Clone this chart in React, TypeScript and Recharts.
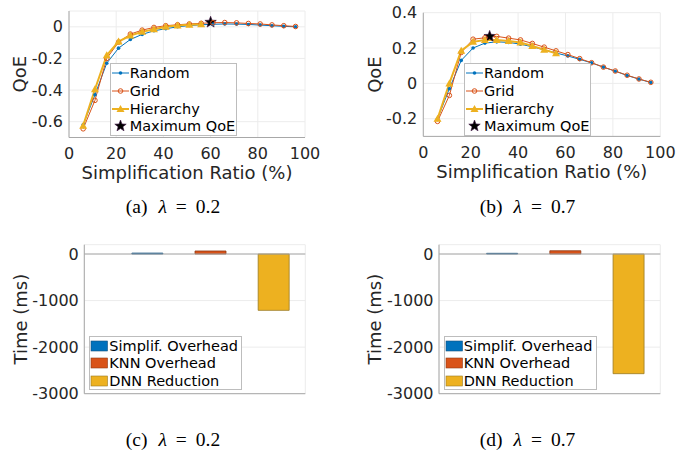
import React from "react";
import {
  Bar,
  BarChart,
  CartesianGrid,
  ComposedChart,
  Legend,
  Line,
  ReferenceLine,
  Scatter,
  XAxis,
  YAxis,
} from "recharts";

// simplification ratio (%) sampled by each method
const RATIO = [6, 11, 16, 21, 26, 31, 36, 41, 46, 51, 56, 61, 66, 71, 76, 81, 86, 91, 96];
const HIER_RATIO = [6, 11, 16, 21, 26, 31, 36, 41, 46, 51, 56];

// QoE, lambda = 0.2
const RANDOM_02 = [-0.62, -0.43, -0.23, -0.135, -0.08, -0.048, -0.025, -0.012, 0.0, 0.008, 0.013, 0.016, 0.018, 0.017, 0.015, 0.011, 0.007, 0.003, 0.0];
const GRID_02 = [-0.645, -0.465, -0.2, -0.097, -0.046, -0.021, -0.004, 0.007, 0.013, 0.018, 0.022, 0.026, 0.027, 0.025, 0.021, 0.018, 0.012, 0.007, 0.002];
const HIER_02 = [-0.625, -0.395, -0.18, -0.093, -0.055, -0.032, -0.015, 0.0, 0.008, 0.013, 0.016];
const MAX_02 = [{ x: 60, y: 0.029 }];

// QoE, lambda = 0.7
const RANDOM_07 = [-0.2, -0.03, 0.13, 0.2, 0.228, 0.235, 0.232, 0.222, 0.207, 0.19, 0.172, 0.155, 0.136, 0.116, 0.092, 0.069, 0.045, 0.024, 0.005];
const GRID_07 = [-0.215, -0.068, 0.175, 0.25, 0.258, 0.266, 0.256, 0.246, 0.226, 0.205, 0.184, 0.163, 0.14, 0.117, 0.092, 0.07, 0.046, 0.025, 0.006];
const HIER_07 = [-0.2, 0.0, 0.185, 0.235, 0.245, 0.245, 0.24, 0.232, 0.212, 0.19, 0.17];
const MAX_07 = [{ x: 28, y: 0.266 }];

// time breakdown (ms)
const BAR_POS = [1, 2, 3];
const BAR_KEYS = ["simplif", "knn", "dnn"];
const BAR_NAMES = ["Simplif. Overhead", "KNN Overhead", "DNN Reduction"];
const TIME_02 = [20, 65, -1210];
const TIME_07 = [15, 70, -2570];

const LINE_NAMES = ["Random", "Grid", "Hierarchy", "Maximum QoE"];
const X_TICKS = [0, 20, 40, 60, 80, 100];
const Y_TICKS_02 = [-0.6, -0.4, -0.2, 0];
const Y_TICKS_07 = [-0.2, 0, 0.2, 0.4];
const TIME_TICKS = [-3000, -2000, -1000, 0];

const BLUE = "#0072BD";
const ORANGE = "#D95319";
const YELLOW = "#EDB120";
const BAR_COLORS = [BLUE, ORANGE, YELLOW];
const BAR_EDGES = ["#17507e", "#8f3a14", "#9a7a22"];
const FONT = "DejaVu Sans";
const TEXT = "#262626";
const AXIS = "#a8a8a8";
const GRID = "#ececec";

const toPoints = (xs: number[], ys: number[]) => xs.map((x, i) => ({ x, y: ys[i] }));

function starPath(cx: number, cy: number, R: number) {
  const r = R * 0.42;
  let d = "";
  for (let k = 0; k < 10; k++) {
    const a = -Math.PI / 2 + (k * Math.PI) / 5;
    const rad = k % 2 === 0 ? R : r;
    d += (k === 0 ? "M" : "L") + (cx + rad * Math.cos(a)).toFixed(2) + "," + (cy + rad * Math.sin(a)).toFixed(2);
  }
  return d + "Z";
}

const Marker = ({ kind, cx, cy }: { kind: string; cx: number; cy: number }) => {
  if (kind === "Random") return <circle cx={cx} cy={cy} r={1.8} fill={BLUE} />;
  if (kind === "Grid")
    return <circle cx={cx} cy={cy} r={2.3} fill="none" stroke={ORANGE} strokeWidth={1} />;
  if (kind === "Hierarchy")
    return <path d={`M${cx},${cy - 4}L${cx - 4},${cy + 3}L${cx + 4},${cy + 3}Z`} fill={YELLOW} />;
  return <path d={starPath(cx, cy, 6)} fill="#000" stroke="#3a1040" strokeWidth={0.6} />;
};

const dotFor = (kind: string) => (p: any) =>
  p.cx == null ? <g key={`${kind}${p.index}`} /> : <g key={`${kind}${p.index}`}><Marker kind={kind} cx={p.cx} cy={p.cy} /></g>;

const LINE_COLOR: Record<string, string> = { Random: BLUE, Grid: ORANGE, Hierarchy: YELLOW };

const boxStyle: React.CSSProperties = {
  width: "100%",
  height: "100%",
  boxSizing: "border-box",
  background: "#fff",
  border: "1px solid #bdbdbd",
  fontFamily: FONT,
  fontSize: 14.5,
  color: "#000",
};

const ordered = (payload: any[], names: string[]) =>
  (payload || []).slice().sort((a, b) => names.indexOf(a.value) - names.indexOf(b.value));

function LineLegend({ payload }: any) {
  return (
    <div style={boxStyle}>
      {ordered(payload, LINE_NAMES).map((p: any) => (
        <div key={p.value} style={{ display: "flex", alignItems: "center", height: 17.7 }}>
          <svg width={19} height={16} style={{ flex: "none" }}>
            {LINE_COLOR[p.value] && (
              <line x1={1} x2={18} y1={8} y2={8} stroke={LINE_COLOR[p.value]} strokeWidth={p.value === "Hierarchy" ? 2 : 1} />
            )}
            <Marker kind={p.value} cx={9.5} cy={8} />
          </svg>
          <span style={{ whiteSpace: "nowrap" }}>{p.value}</span>
        </div>
      ))}
    </div>
  );
}

function BarLegend({ payload }: any) {
  return (
    <div style={boxStyle}>
      {ordered(payload, BAR_NAMES).map((p: any) => {
        const i = BAR_NAMES.indexOf(p.value);
        return (
          <div key={p.value} style={{ display: "flex", alignItems: "center", height: 17.7 }}>
            <svg width={19} height={16} style={{ flex: "none" }}>
              <rect x={1} y={3} width={16.5} height={10} fill={BAR_COLORS[i]} stroke={BAR_EDGES[i]} strokeWidth={0.6} />
            </svg>
            <span style={{ whiteSpace: "nowrap" }}>{p.value}</span>
          </div>
        );
      })}
    </div>
  );
}

type Box = { left: number; top: number; width: number; height: number };

type QoeProps = {
  random: number[];
  grid: number[];
  hier: number[];
  star: { x: number; y: number }[];
  yDomain: [number, number];
  yTicks: number[];
  top: number;
  bottom: number;
  yAxisW: number;
  right: number;
  yLabelX: number;
  legend: Box;
};

function QoeChart(p: QoeProps) {
  const tick = { fontSize: 16, fill: TEXT, fontFamily: FONT };
  return (
    <ComposedChart width={350} height={200} margin={{ top: p.top, right: p.right, left: 0, bottom: 0 }}>
      <CartesianGrid stroke={GRID} />
      <XAxis
        type="number"
        dataKey="x"
        domain={[0, 100]}
        ticks={X_TICKS}
        tickLine={false}
        tickSize={0}
        tickMargin={10}
        height={200 - p.bottom}
        axisLine={{ stroke: AXIS }}
        tick={tick}
        label={{ value: "Simplification Ratio (%)", position: "insideTop", offset: 28.5, style: { fontSize: 18, fill: TEXT, fontFamily: FONT } }}
      />
      <YAxis
        type="number"
        dataKey="y"
        domain={p.yDomain}
        ticks={p.yTicks}
        tickLine={false}
        tickSize={0}
        tickMargin={6}
        width={p.yAxisW}
        axisLine={{ stroke: AXIS }}
        tick={tick}
        label={{ value: "QoE", angle: -90, position: "insideLeft", offset: p.yLabelX, style: { fontSize: 18, fill: TEXT, fontFamily: FONT, textAnchor: "middle" } }}
      />
      <Line data={toPoints(RATIO, p.random)} dataKey="y" name="Random" stroke={BLUE} strokeWidth={1} dot={dotFor("Random")} isAnimationActive={false} />
      <Line data={toPoints(RATIO, p.grid)} dataKey="y" name="Grid" stroke={ORANGE} strokeWidth={1} dot={dotFor("Grid")} isAnimationActive={false} />
      <Line data={toPoints(HIER_RATIO, p.hier)} dataKey="y" name="Hierarchy" stroke={YELLOW} strokeWidth={2} dot={dotFor("Hierarchy")} isAnimationActive={false} />
      <Scatter data={p.star} dataKey="y" name="Maximum QoE" fill="#000" shape={(s: any) => <Marker kind="Max" cx={s.cx} cy={s.cy} />} isAnimationActive={false} />
      <Legend layout="vertical" align="center" verticalAlign="middle" wrapperStyle={{ ...p.legend }} content={LineLegend} />
    </ComposedChart>
  );
}

function TimeChart({ values, yAxisW, right, yLabelX, legend }: { values: number[]; yAxisW: number; right: number; yLabelX: number; legend: Box }) {
  const rows = BAR_POS.map((pos, i) => {
    const row: Record<string, number> = { pos };
    BAR_KEYS.forEach((k, j) => (row[k] = j === i ? values[i] : 0));
    return row;
  });
  const tick = { fontSize: 16, fill: TEXT, fontFamily: FONT };
  return (
    <BarChart width={350} height={200} data={rows} margin={{ top: 24.7, right, left: 0, bottom: 0 }} stackOffset="sign">
      <CartesianGrid stroke={GRID} />
      <XAxis type="number" dataKey="pos" domain={[0, 3.5]} ticks={BAR_POS} tick={false} tickLine={false} height={26.3} axisLine={{ stroke: AXIS }} />
      <YAxis
        type="number"
        domain={[-3000, 200]}
        ticks={TIME_TICKS}
        tickLine={false}
        tickSize={0}
        tickMargin={5.5}
        width={yAxisW}
        axisLine={{ stroke: AXIS }}
        tick={tick}
        label={{ value: "Time (ms)", angle: -90, position: "insideLeft", offset: yLabelX, style: { fontSize: 18, fill: TEXT, fontFamily: FONT, textAnchor: "middle" } }}
      />
      <ReferenceLine y={0} stroke={AXIS} />
      {BAR_KEYS.map((k, i) => (
        <Bar key={k} dataKey={k} name={BAR_NAMES[i]} stackId="t" fill={BAR_COLORS[i]} stroke={BAR_EDGES[i]} strokeWidth={0.8} barSize={31} isAnimationActive={false} />
      ))}
      <Legend layout="vertical" align="center" verticalAlign="middle" wrapperStyle={{ ...legend }} content={BarLegend} />
    </BarChart>
  );
}

function Caption({ tag, value, cx, top }: { tag: string; value: string; cx: number; top: number }) {
  return (
    <div style={{ position: "absolute", left: cx - 60, top, width: 120, textAlign: "center", fontFamily: "Liberation Serif", fontSize: 19.5, lineHeight: "19px", color: "#000", whiteSpace: "nowrap" }}>
      <span>({tag})</span>
      <i style={{ marginLeft: 11 }}>λ</i>
      <span style={{ margin: "0 9px" }}>=</span>
      <span>{value}</span>
    </div>
  );
}

export default function App() {
  return (
    <div style={{ position: "absolute", left: 0, top: 0, width: 700, height: 458, background: "#fff", overflow: "hidden" }}>
      <div style={{ position: "absolute", left: 0, top: 0 }}>
        <QoeChart random={RANDOM_02} grid={GRID_02} hier={HIER_02} star={MAX_02} yDomain={[-0.7, 0.1]} yTicks={Y_TICKS_02} top={11} bottom={137.5} yAxisW={69} right={45} yLabelX={20} legend={{ left: 109.7, top: 63.3, width: 127.6, height: 72.7 }} />
      </div>
      <div style={{ position: "absolute", left: 350, top: 0 }}>
        <QoeChart random={RANDOM_07} grid={GRID_07} hier={HIER_07} star={MAX_07} yDomain={[-0.3, 0.4]} yTicks={Y_TICKS_07} top={12.7} bottom={136.4} yAxisW={73.3} right={39.7} yLabelX={25} legend={{ left: 114, top: 63.3, width: 127.3, height: 72.7 }} />
      </div>
      <div style={{ position: "absolute", left: 0, top: 220 }}>
        <TimeChart values={TIME_02} yAxisW={84.3} right={44.7} yLabelX={21} legend={{ left: 89.3, top: 115.7, width: 152.7, height: 54 }} />
      </div>
      <div style={{ position: "absolute", left: 350, top: 220 }}>
        <TimeChart values={TIME_07} yAxisW={89} right={39.7} yLabelX={25} legend={{ left: 93.7, top: 115.7, width: 153.3, height: 54 }} />
      </div>
      <Caption tag="a" value="0.2" cx={173} top={197} />
      <Caption tag="b" value="0.7" cx={527.5} top={197} />
      <Caption tag="c" value="0.2" cx={173} top={430} />
      <Caption tag="d" value="0.7" cx={527.5} top={430} />
    </div>
  );
}
